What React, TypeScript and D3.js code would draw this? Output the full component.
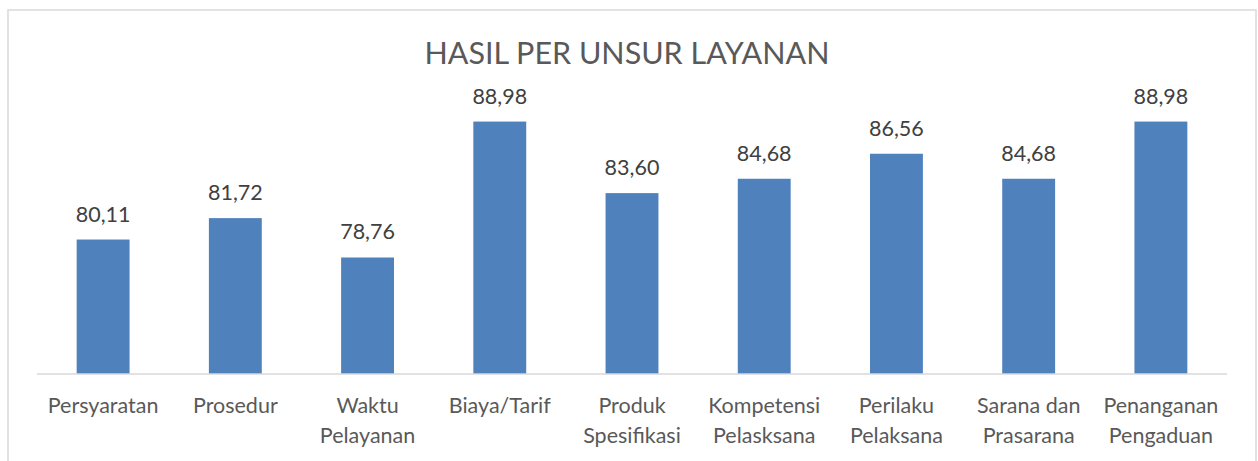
import React from 'react';
import * as d3 from 'd3';

const categories = [
  'Persyaratan',
  'Prosedur',
  'Waktu Pelayanan',
  'Biaya/Tarif',
  'Produk Spesifikasi',
  'Kompetensi Pelasksana',
  'Perilaku Pelaksana',
  'Sarana dan Prasarana',
  'Penanganan Pengaduan',
];
const values = [80.11, 81.72, 78.76, 88.98, 83.6, 84.68, 86.56, 84.68, 88.98];
const yDomain: [number, number] = [70, 90];
const title = 'HASIL PER UNSUR LAYANAN';

const width = 1258;
const height = 461;
const font = 'Lato, Carlito, Calibri, sans-serif';

// split a category into two lines at its last space
const wrap = (s: string) => {
  const i = s.lastIndexOf(' ');
  return i < 0 ? [s] : [s.slice(0, i), s.slice(i + 1)];
};

const App: React.FC = () => {
  const x = d3
    .scaleBand()
    .domain(categories)
    .range([37, 1227])
    .paddingInner(0.6)
    .paddingOuter(0.3);

  const y = d3.scaleLinear().domain(yDomain).range([374, 108]);
  const fmt = (v: number) => d3.format('.2f')(v).replace('.', ',');

  return (
    <svg
      width={width}
      height={height}
      style={{ position: 'absolute', left: 0, top: 0, fontFamily: font }}
    >
      <rect x={0} y={0} width={width} height={height} fill='#fff' />
      <rect
        x={8}
        y={10}
        width={1248}
        height={470}
        fill='#fff'
        stroke='#d9d9d9'
        strokeWidth={1.5}
      />
      <text
        x={627}
        y={64}
        textAnchor='middle'
        fontSize={30.5}
        fill='#595959'
      >
        {title}
      </text>
      {categories.map((c, i) => (
        <g key={c}>
          <rect
            x={x(c)}
            y={y(values[i])}
            width={x.bandwidth()}
            height={y(yDomain[0]) - y(values[i])}
            fill='#4f81bd'
          />
          <text
            x={(x(c) ?? 0) + x.bandwidth() / 2}
            y={y(values[i]) - 18}
            textAnchor='middle'
            fontSize={21.5}
            fill='#404040'
          >
            {fmt(values[i])}
          </text>
          <text
            x={(x(c) ?? 0) + x.bandwidth() / 2}
            y={413}
            textAnchor='middle'
            fontSize={21.5}
            fill='#595959'
          >
            {wrap(c).map((line, j) => (
              <tspan key={j} x={(x(c) ?? 0) + x.bandwidth() / 2} dy={j === 0 ? 0 : 29.5}>
                {line}
              </tspan>
            ))}
          </text>
        </g>
      ))}
      <line
        x1={37}
        x2={1227}
        y1={y(yDomain[0])}
        y2={y(yDomain[0])}
        stroke='#d9d9d9'
        strokeWidth={1.5}
      />
    </svg>
  );
};

export default App;
